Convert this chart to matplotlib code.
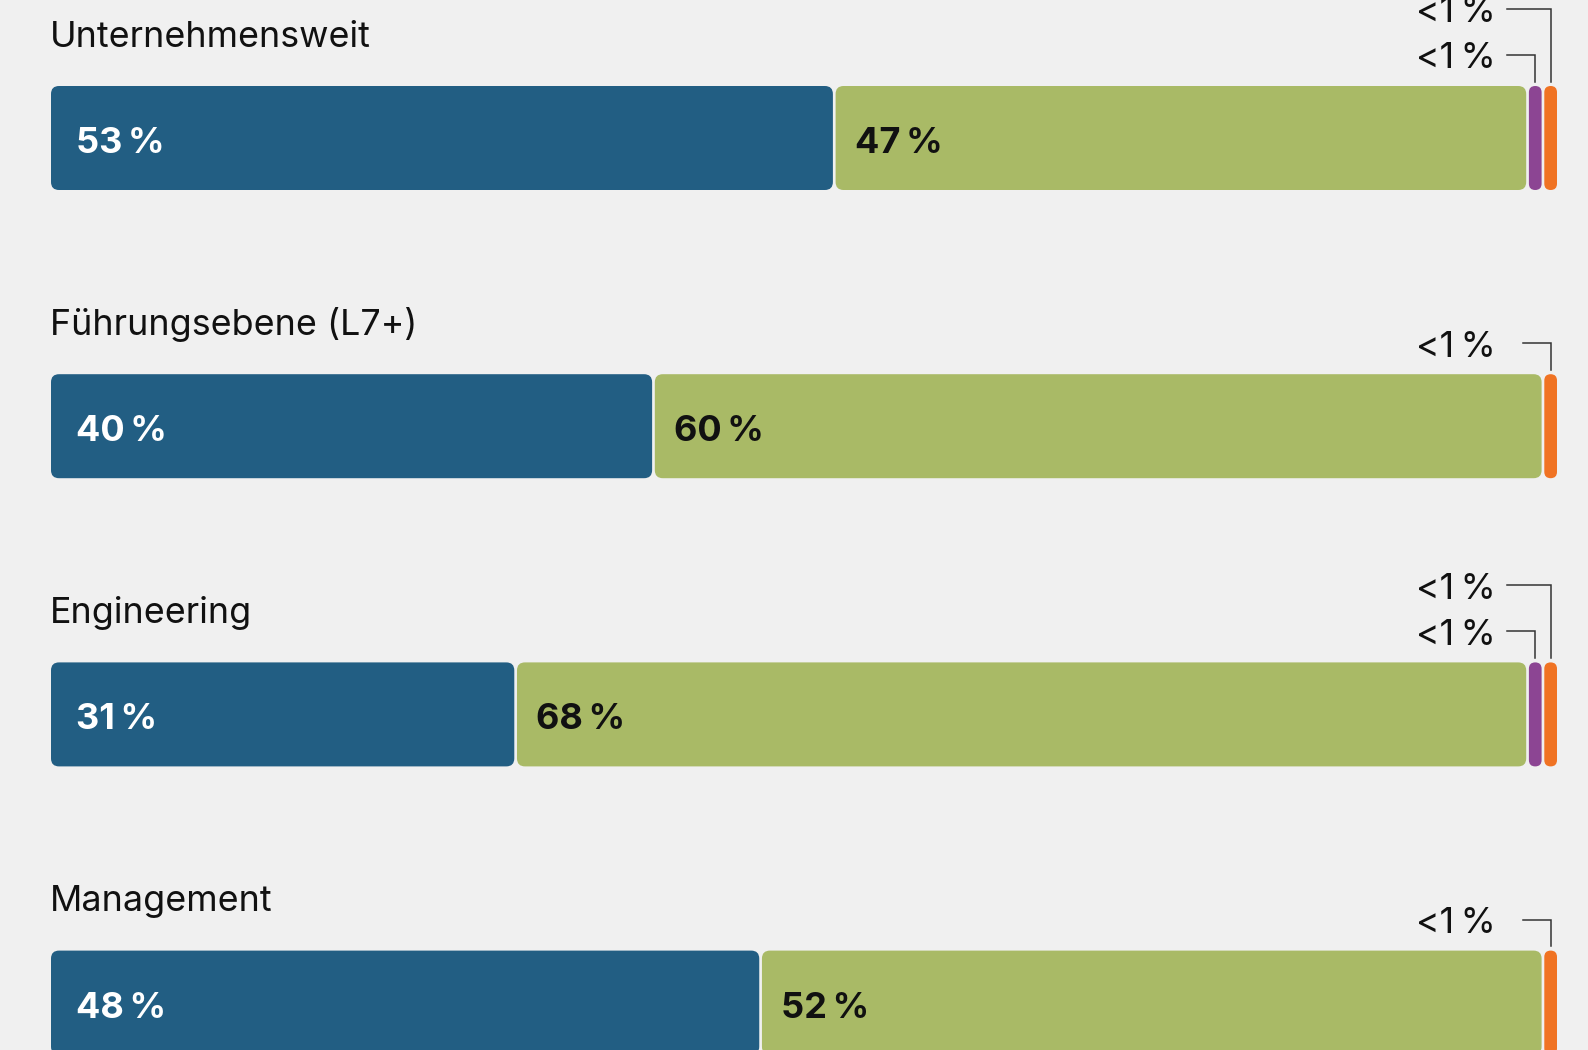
import matplotlib
matplotlib.use("Agg")
import matplotlib.pyplot as plt
from matplotlib.patches import FancyBboxPatch

### Data
#########################

categories = ["Unternehmensweit", "Führungsebene (L7+)", "Engineering", "Management"]
share_a = [53.1, 40.4, 31.4, 47.6]   # blue, %
share_b = [46.9, 59.6, 68.4, 52.4]   # green
small_purple = [True, False, True, False]   # "<1 %" segment present
small_orange = [True, True, True, True]
small_label = "<1\u2009%"

### Style
#########################

BG = "#f0f0f0"
C_A = "#225e83"
C_B = "#a9ba66"
C_P = "#8c4593"
C_O = "#f07323"
FONT = ["Inter", "DejaVu Sans"]

W, H = 1588, 1050
X0, X1 = 51, 1557          # bar extent in pixels
TOP0, STEP = 86, 288.2      # first bar top, row spacing
BAR_H = 104
GAP = 2.7
THIN = 12.7

fig = plt.figure(figsize=(W / 100, H / 100), dpi=100, facecolor=BG)
ax = fig.add_axes([0, 0, 1, 1])
ax.set_facecolor(BG)
ax.set_xlim(0, W)
ax.set_ylim(H, 0)
ax.axis("off")


def seg(x, y, w, h, color, r):
    p = FancyBboxPatch((x, y), w, h, boxstyle=f"round,pad=0,rounding_size={r}",
                       facecolor=color, edgecolor="none")
    ax.add_patch(p)


for i, cat in enumerate(categories):
    top = TOP0 + i * STEP
    smalls = []
    if small_purple[i]:
        smalls.append(C_P)
    if small_orange[i]:
        smalls.append(C_O)
    # space left for the two main segments
    x_small0 = X1 - len(smalls) * THIN - (len(smalls) - 1) * GAP
    avail = x_small0 - GAP - X0 - GAP
    tot = share_a[i] + share_b[i]
    wa = avail * share_a[i] / tot
    wb = avail - wa

    seg(X0, top, wa, BAR_H, C_A, 8)
    seg(X0 + wa + GAP, top, wb, BAR_H, C_B, 8)

    ax.text(X0 - 1, top - 39.3, cat, fontsize=25.8, family=FONT, color="#111111",
            va="baseline", ha="left")
    ax.text(X0 + 25, top + 67, f"{round(share_a[i])}\u2009%", fontsize=26, family=FONT,
            fontweight="bold", color="white", va="baseline", ha="left")
    ax.text(X0 + wa + GAP + 19, top + 67, f"{round(share_b[i])}\u2009%", fontsize=26,
            family=FONT, fontweight="bold", color="#111111", va="baseline", ha="left")

    # tiny segments with connector labels
    centers = []
    for k, c in enumerate(smalls):
        xs = x_small0 + k * (THIN + GAP)
        seg(xs, top, THIN, BAR_H, c, THIN / 2)
        centers.append(xs + THIN / 2)

    line_x0 = centers[0] - 28
    for k, cx in enumerate(centers):
        ly = top - 31 - k * 46
        ax.plot([line_x0, cx, cx], [ly, ly, top - 4.5], color="#333333",
                lw=1.1, solid_joinstyle="miter")
        ax.text(X1 - 61, ly + 13.5, small_label, fontsize=25.8, family=FONT,
                color="#111111", va="baseline", ha="right")

fig.savefig("out.png", dpi=100, facecolor=BG)
